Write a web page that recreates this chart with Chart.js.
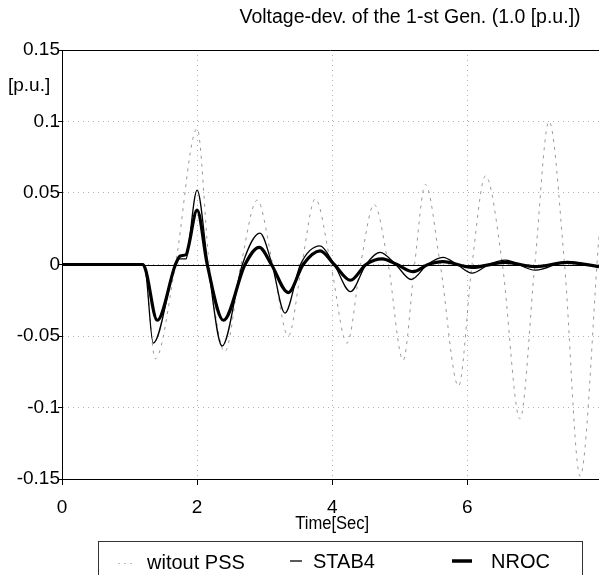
<!DOCTYPE html>
<html>
<head>
<meta charset="utf-8">
<title>Voltage-dev. of the 1-st Gen.</title>
<script src="https://cdn.jsdelivr.net/npm/chart.js@4.4.1/dist/chart.umd.min.js"></script>
<style>
  body { margin: 0; background: #fff; }
  #wrap { width: 599px; height: 575px; }
</style>
</head>
<body>
<div id="wrap"><canvas id="voltageChart" width="599" height="575"></canvas></div>
<script>
// Time [Sec] and voltage deviation [p.u.]
const witoutTime = [0, 1.20, 1.24, 1.38, 1.68, 2.00, 2.18, 2.41, 2.65, 2.89, 3.12, 3.35, 3.55, 3.75, 3.98, 4.22, 4.42, 4.62, 4.83, 5.05, 5.22, 5.38, 5.60, 5.87, 6.07, 6.27, 6.52, 6.78, 7.00, 7.21, 7.44, 7.67, 7.95];
const witoutVals = [0, 0, -0.006, -0.066, 0, 0.095, 0, -0.061, 0, 0.045, 0, -0.050, 0, 0.046, 0, -0.055, 0, 0.042, 0, -0.067, 0, 0.056, 0, -0.085, 0, 0.062, 0, -0.108, 0, 0.100, 0, -0.148, 0.020];

const stab4Time = [0, 1.20, 1.24, 1.35, 1.68, 1.74, 1.84, 1.87, 2.00, 2.16, 2.37, 2.67, 2.93, 3.11, 3.30, 3.53, 3.82, 4.03, 4.27, 4.50, 4.71, 4.94, 5.17, 5.41, 5.64, 5.85, 6.07, 6.32, 6.56, 7.01, 7.48, 7.95];
const stab4Vals = [0, 0, -0.005, -0.055, 0, 0.004, 0.004, 0.012, 0.052, 0, -0.057, 0, 0.022, 0, -0.034, 0, 0.013, 0, -0.019, 0, 0.0085, 0, -0.0105, 0, 0.005, 0, -0.006, 0, 0.003, -0.004, 0.002, -0.0015];

const nrocTime = [0, 1.20, 1.24, 1.41, 1.68, 1.75, 1.84, 1.87, 2.00, 2.15, 2.39, 2.71, 2.92, 3.10, 3.35, 3.57, 3.82, 4.03, 4.27, 4.50, 4.74, 4.96, 5.20, 5.42, 5.64, 6.07, 6.56, 7.01, 7.48, 7.95];
const nrocVals = [0, 0, -0.004, -0.039, 0, 0.006, 0.007, 0.012, 0.038, 0, -0.039, 0, 0.012, 0, -0.0196, 0, 0.0095, 0, -0.011, 0, 0.004, 0, -0.005, 0, 0.002, -0.002, 0.0015, -0.0015, 0.0015, -0.0015];

// Axis ticks
const xTickValues = [0, 2, 4, 6];
const yTickValues = [0.15, 0.1, 0.05, 0, -0.05, -0.1, -0.15];
const yTickLabels = ['0.15', '0.1', '0.05', '0', '-0.05', '-0.1', '-0.15'];

const seriesNames = ['witout PSS', 'STAB4', 'NROC'];

const FONT = '"Liberation Sans", Arial, sans-serif';

function toPoints(times, vals) {
    return times.map((t, i) => ({ x: t, y: vals[i] }));
}

// Frame, zero line, title, unit and the boxed legend
const decorPlugin = {
    id: 'decor',
    beforeDatasetsDraw(chart) {
        const { ctx, chartArea, scales: { y } } = chart;
        ctx.save();
        ctx.strokeStyle = '#000';
        ctx.lineWidth = 1;
        ctx.beginPath();
        const y0 = Math.round(y.getPixelForValue(0)) + 0.5;
        ctx.moveTo(chartArea.left, y0);
        ctx.lineTo(chartArea.right, y0);
        const yTop = Math.round(chartArea.top) + 0.5;
        ctx.moveTo(chartArea.left, yTop);
        ctx.lineTo(chartArea.right, yTop);
        ctx.stroke();
        ctx.restore();
    },
    afterDraw(chart) {
        const { ctx, scales: { x } } = chart;
        ctx.save();
        ctx.fillStyle = '#000';
        ctx.textBaseline = 'middle';

        ctx.font = '19.5px ' + FONT;
        ctx.textAlign = 'center';
        ctx.fillText('Voltage-dev. of the 1-st Gen. (1.0 [p.u.])', 410, 18);

        ctx.font = '19px ' + FONT;
        ctx.textAlign = 'left';
        ctx.fillText('[p.u.]', 8, 86);

        ctx.textAlign = 'center';
        ctx.font = '18px ' + FONT;
        ctx.fillText('Time[Sec]', x.getPixelForValue(4), 524, 74);

        // legend box
        ctx.strokeStyle = '#333';
        ctx.lineWidth = 1;
        ctx.strokeRect(98.5, 541.5, 484, 60);

        ctx.font = '20px ' + FONT;
        ctx.textAlign = 'left';
        ctx.fillText(seriesNames[0], 147, 563);
        ctx.fillText(seriesNames[1], 313, 562);
        ctx.fillText(seriesNames[2], 491, 562);

        ctx.beginPath();
        ctx.setLineDash([2, 4]);
        ctx.strokeStyle = '#bbb';
        ctx.moveTo(118, 563.5);
        ctx.lineTo(134, 563.5);
        ctx.stroke();
        ctx.setLineDash([]);

        ctx.strokeStyle = '#000';
        ctx.lineWidth = 1.3;
        ctx.beginPath();
        ctx.moveTo(290, 561);
        ctx.lineTo(302, 561);
        ctx.stroke();

        ctx.lineWidth = 3.5;
        ctx.beginPath();
        ctx.moveTo(452, 561);
        ctx.lineTo(472, 561);
        ctx.stroke();
        ctx.restore();
    }
};

const ctx = document.getElementById('voltageChart').getContext('2d');

new Chart(ctx, {
    type: 'line',
    data: {
        datasets: [
            {
                label: seriesNames[2],
                data: toPoints(nrocTime, nrocVals),
                borderColor: '#000',
                borderWidth: 3.2,
                order: 0
            },
            {
                label: seriesNames[1],
                data: toPoints(stab4Time, stab4Vals),
                borderColor: '#000',
                borderWidth: 1.3,
                order: 1
            },
            {
                label: seriesNames[0],
                data: toPoints(witoutTime, witoutVals),
                borderColor: '#999',
                borderWidth: 1,
                borderDash: [3, 5],
                order: 2
            }
        ]
    },
    options: {
        responsive: false,
        animation: false,
        elements: {
            point: { radius: 0 },
            line: { cubicInterpolationMode: 'monotone', fill: false }
        },
        layout: { padding: { top: 50, left: 0, right: 0, bottom: 0 } },
        plugins: {
            legend: { display: false },
            title: { display: false },
            tooltip: { enabled: false }
        },
        scales: {
            x: {
                type: 'linear',
                min: 0,
                max: 7.95,
                afterBuildTicks: scale => { scale.ticks = xTickValues.map(v => ({ value: v })); },
                afterFit: scale => { scale.height = 96; },
                ticks: {
                    color: '#000',
                    font: { family: FONT, size: 19 },
                    padding: 11,
                    maxRotation: 0
                },
                grid: {
                    color: '#b0b0b0',
                    tickColor: '#000',
                    tickLength: 6
                },
                border: { color: '#000', width: 1, dash: [1, 4] }
            },
            y: {
                min: -0.15,
                max: 0.15,
                afterBuildTicks: scale => { scale.ticks = yTickValues.map(v => ({ value: v })); },
                afterFit: scale => { scale.width = 62; },
                ticks: {
                    color: '#000',
                    font: { family: FONT, size: 19 },
                    padding: -2,
                    callback: value => yTickLabels[yTickValues.indexOf(value)]
                },
                grid: {
                    color: '#b0b0b0',
                    tickColor: '#000',
                    tickLength: 4
                },
                border: { color: '#000', width: 1, dash: [1, 4] }
            }
        }
    },
    plugins: [decorPlugin]
});
</script>
</body>
</html>
